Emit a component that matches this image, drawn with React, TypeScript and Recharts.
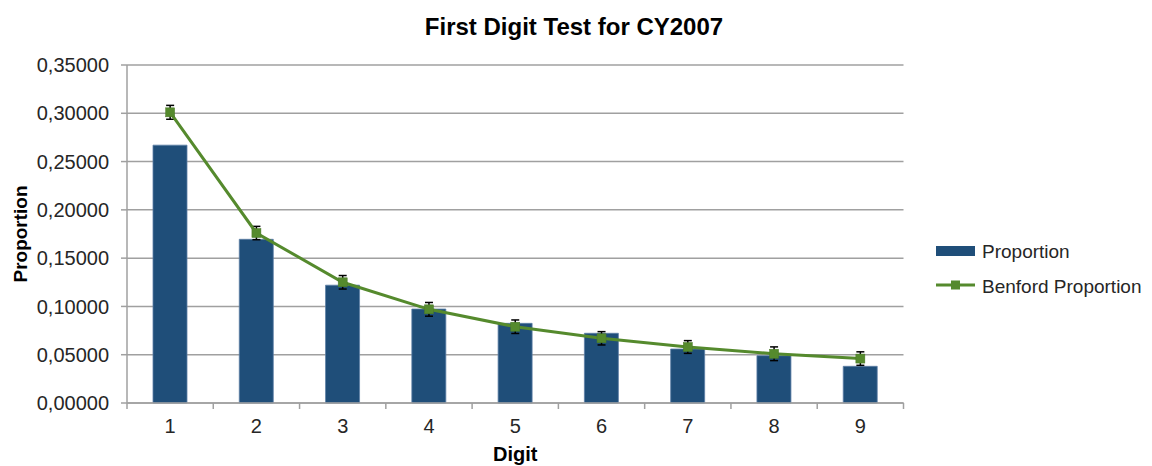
import React from 'react';
import { ComposedChart, Bar, Line, XAxis, YAxis, CartesianGrid, Legend, ErrorBar } from 'recharts';

const digits = [1, 2, 3, 4, 5, 6, 7, 8, 9];
const proportion = [0.267, 0.1695, 0.122, 0.0973, 0.0825, 0.0722, 0.0559, 0.049, 0.038];
const benford = [0.301, 0.176, 0.125, 0.097, 0.079, 0.067, 0.058, 0.051, 0.046];
const benfordError = [0.0072, 0.0069, 0.007, 0.0071, 0.007, 0.0069, 0.0066, 0.0071, 0.007];
const yTicks = [0, 0.05, 0.1, 0.15, 0.2, 0.25, 0.3, 0.35];
const title = 'First Digit Test for CY2007';
const seriesNames = ['Proportion', 'Benford Proportion'];
const xLabel = 'Digit';
const yLabel = 'Proportion';

const data = digits.map((d, i) => ({
  digit: d,
  proportion: proportion[i],
  benford: benford[i],
  err: benfordError[i],
}));
const xTickValues: number[] = [];
digits.forEach((d) => {
  xTickValues.push(d - 0.5);
  xTickValues.push(d);
});
xTickValues.push(digits[digits.length - 1] + 0.5);

const FONT = "'Liberation Sans', Arial, sans-serif";
const BAR = '#1F4E79';
const GREEN = '#558A2D';
const GRID = '#A0A0A0';
const TEXT = '#262626';

const XTick = (props: any) => {
  const { x, y, payload } = props;
  if (Number.isInteger(payload.value)) {
    return (
      <text x={x} y={y + 30} textAnchor="middle" fontSize={20} fontFamily={FONT} fill={TEXT}>
        {payload.value}
      </text>
    );
  }
  return <line x1={x} x2={x} y1={y} y2={y + 6} stroke={GRID} strokeWidth={1.5} />;
};

const SquareDot = (props: any) => {
  const { cx, cy, index } = props;
  return <rect key={`d${index}`} x={cx - 4.5} y={cy - 4.5} width={9} height={9} fill={GREEN} stroke="#4A7A27" strokeWidth={0.5} />;
};

const LegendContent = (props: any) => {
  const payload = props.payload || [];
  const bar = payload.find((p: any) => p.dataKey === 'proportion');
  const line = payload.find((p: any) => p.dataKey === 'benford');
  return (
    <svg width={232} height={72} style={{ display: 'block' }}>
      <rect x={8} y={13} width={39} height={10} fill={BAR} />
      <text x={54} y={25} fontSize={19} fontFamily={FONT} fill={TEXT}>{bar ? bar.value : seriesNames[0]}</text>
      <line x1={8} x2={47} y1={52} y2={52} stroke={GREEN} strokeWidth={3} />
      <rect x={23} y={47.5} width={9} height={9} fill={GREEN} />
      <text x={54} y={60} fontSize={19} fontFamily={FONT} fill={TEXT}>{line ? line.value : seriesNames[1]}</text>
    </svg>
  );
};

export default function App() {
  return (
    <div style={{ position: 'relative', width: 1144, height: 458 }}>
      <div
        style={{
          position: 'absolute',
          left: 0,
          top: 7,
          width: 1132,
          textAlign: 'center',
          fontFamily: FONT,
          fontWeight: 'bold',
          fontSize: 24,
          lineHeight: '24px',
          color: '#000',
          zIndex: 2,
        }}
      >
        {title}
      </div>
      <ComposedChart
        width={1144}
        height={458}
        data={data}
        margin={{ top: 57, right: 248.5, bottom: 0, left: 0 }}
      >
        <CartesianGrid horizontal vertical={false} stroke={GRID} strokeWidth={1.5} />
        <XAxis
          type="number"
          dataKey="digit"
          domain={[0.5, 9.5]}
          ticks={xTickValues}
          interval={0}
          tickSize={0}
          tickMargin={0}
          tickLine={false}
          tick={<XTick />}
          height={63}
          axisLine={{ stroke: GRID, strokeWidth: 1.5 }}
          label={{
            content: (p: any) => {
              const vb = p.viewBox;
              return (
                <text x={vb.x + vb.width / 2} y={vb.y + 58} textAnchor="middle" fontSize={20} fontWeight="bold" fontFamily={FONT} fill="#000">
                  {xLabel}
                </text>
              );
            },
          }}
        />
        <YAxis
          type="number"
          domain={[0, 0.35]}
          ticks={yTicks}
          interval={0}
          width={119}
          tickSize={6}
          tickMargin={12}
          tickLine={{ stroke: GRID, strokeWidth: 1.5 }}
          axisLine={{ stroke: GRID, strokeWidth: 1.5 }}
          tickFormatter={(v: number) => v.toFixed(5).replace('.', ',')}
          tick={{ fontSize: 20, fontFamily: FONT, fill: TEXT }}
          label={{
            content: (p: any) => {
              const vb = p.viewBox;
              const cx = vb.x + 18.5;
              const cy = vb.y + vb.height / 2;
              return (
                <text x={cx} y={cy} transform={`rotate(-90, ${cx}, ${cy})`} textAnchor="middle" fontSize={19} fontWeight="bold" fontFamily={FONT} fill="#000">
                  {yLabel}
                </text>
              );
            },
          }}
        />
        <Legend
          layout="vertical"
          align="center"
          verticalAlign="middle"
          content={<LegendContent />}
          wrapperStyle={{ left: 920, top: 225, width: 232, height: 72 }}
        />
        <Bar dataKey="proportion" name={seriesNames[0]} fill={BAR} stroke="#5D7FA6" strokeWidth={0.8} barSize={34} isAnimationActive={false} />
        <Line
          dataKey="benford"
          name={seriesNames[1]}
          stroke={GREEN}
          strokeWidth={3}
          type="linear"
          dot={<SquareDot />}
          activeDot={false}
          isAnimationActive={false}
        >
          <ErrorBar dataKey="err" direction="y" width={4} stroke="#000" strokeWidth={1.5} isAnimationActive={false} />
        </Line>
      </ComposedChart>
    </div>
  );
}
